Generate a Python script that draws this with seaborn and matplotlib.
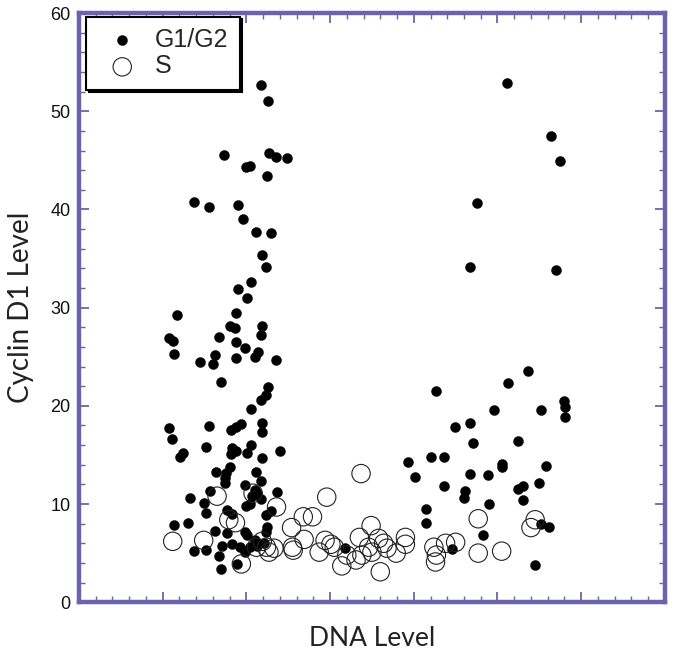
import matplotlib
matplotlib.use("Agg")
import matplotlib.pyplot as plt
import seaborn as sns
import pandas as pd
from matplotlib.ticker import MultipleLocator, AutoMinorLocator

# G1/G2 cells (filled)
g_x = [1.65, 2.18, 2.26, 1.73, 2.00, 2.04, 2.27, 2.35, 2.49, 2.25, 1.37, 1.55, 1.90, 1.96,
       2.12, 2.29, 2.19, 2.23, 2.06, 1.90, 2.01, 1.88, 1.17, 1.80, 1.87, 2.19, 2.18, 1.08,
       1.12, 1.67, 1.88, 1.98, 2.14, 2.10, 1.14, 1.44, 1.63, 1.60, 1.88, 2.35, 1.70, 2.26,
       2.24, 2.18, 2.06, 1.07, 1.11, 1.55, 1.94, 1.88, 1.82, 2.19, 2.19, 1.24, 1.21, 1.52,
       1.83, 1.88, 1.82, 2.06, 2.01, 2.40, 2.19, 1.64, 1.80, 1.76, 1.74, 1.74, 2.11, 2.18,
       1.98, 1.56, 1.33, 1.49, 2.36, 2.10, 2.13, 2.07, 2.18, 2.04, 2.00, 1.52, 1.77, 1.83,
       2.30, 2.24, 1.13, 1.30, 1.62, 2.25, 2.24, 1.77, 1.98, 2.01, 1.83, 1.92, 1.98, 2.04,
       2.10, 2.13, 2.21, 1.71, 1.37, 1.52, 1.67, 1.89, 1.70, 3.18, 4.46, 5.36, 5.13, 4.26,
       5.79, 5.81, 5.81, 4.96, 5.52, 4.49, 4.67, 4.71, 5.24, 3.93, 4.20, 4.36, 4.02, 4.67,
       4.89, 5.05, 5.05, 5.58, 4.36, 4.61, 4.60, 5.50, 5.31, 5.25, 5.31, 4.90, 4.15, 4.15,
       4.83, 5.52, 5.61, 5.45, 5.11, 5.64, 5.75, 4.76, 4.67, 5.70]
g_y = [52.5, 52.7, 51.0, 45.6, 44.3, 44.4, 45.8, 45.3, 45.2, 43.4, 40.8, 40.3, 40.5, 39.0,
       37.7, 37.6, 35.4, 34.1, 32.6, 31.9, 31.0, 29.5, 29.3, 28.1, 27.9, 28.1, 27.2, 26.9,
       26.6, 27.0, 26.5, 25.9, 25.5, 25.0, 25.3, 24.5, 25.2, 24.3, 24.9, 24.7, 22.4, 21.9,
       21.1, 20.6, 19.7, 17.7, 16.6, 17.9, 18.1, 17.8, 17.5, 18.3, 17.3, 15.2, 14.8, 15.8,
       15.7, 15.4, 15.1, 16.0, 15.2, 15.4, 14.7, 13.3, 13.8, 13.2, 12.7, 12.1, 13.3, 12.3,
       11.9, 11.3, 10.6, 10.1, 11.2, 11.4, 11.1, 10.8, 10.5, 10.0, 9.8, 9.1, 9.4, 9.0,
       9.3, 8.9, 7.9, 8.1, 7.3, 7.7, 7.2, 7.0, 7.1, 6.8, 5.9, 5.6, 5.1, 5.6,
       6.3, 5.7, 6.0, 5.7, 5.2, 5.3, 4.7, 3.9, 3.4, 5.5, 5.4, 23.6, 22.3, 21.5,
       20.5, 19.9, 18.9, 19.6, 19.6, 17.8, 18.3, 16.2, 16.4, 14.3, 14.8, 14.8, 12.8, 13.1,
       13.0, 14.1, 13.8, 13.9, 11.8, 11.3, 10.6, 12.1, 11.8, 11.5, 10.4, 10.0, 9.5, 8.1,
       6.8, 8.0, 7.7, 3.8, 52.9, 47.5, 44.9, 40.7, 34.1, 33.8]

# S-phase cells (open)
s_x = [1.12, 1.49, 1.65, 1.79, 1.87, 1.94, 2.08, 2.36, 2.19, 2.24, 2.27, 2.33, 2.12, 2.54,
       2.55, 2.56, 2.68, 2.79, 2.69, 2.96, 2.87, 2.94, 3.01, 3.05, 3.14, 3.37, 3.49, 3.90,
       3.90, 3.35, 3.58, 3.64, 3.68, 3.79, 3.46, 3.50, 3.38, 3.20, 3.31, 3.60, 4.24, 4.27,
       4.26, 4.38, 4.50, 4.77, 4.77, 5.05, 5.45, 5.40]
s_y = [6.2, 6.3, 10.8, 8.4, 8.1, 3.9, 11.1, 9.7, 6.2, 5.6, 5.1, 5.5, 5.6, 7.6,
       5.6, 5.3, 8.7, 8.7, 6.4, 10.7, 5.1, 6.3, 5.9, 5.6, 3.7, 13.1, 7.8, 6.6,
       5.9, 6.6, 6.5, 6.0, 5.5, 5.0, 5.6, 5.1, 4.8, 4.8, 4.3, 3.1, 5.6, 4.8,
       4.1, 6.0, 6.1, 8.5, 5.0, 5.2, 8.4, 7.6]

labels = ["G1/G2", "S"]
y_ticks = [0, 10, 20, 30, 40, 50, 60]

purple = "#6C64AA"

sns.set_theme(style="white")
plt.rcParams["font.family"] = ["Liberation Sans", "DejaVu Sans"]

g_df = pd.DataFrame({"dna": g_x, "cyc": g_y})
s_df = pd.DataFrame({"dna": s_x, "cyc": s_y})

fig = plt.figure(figsize=(6.75, 6.56), dpi=100)
ax = fig.add_axes([0.117, 0.082, 0.868, 0.898])

sns.scatterplot(data=g_df, x="dna", y="cyc", ax=ax, s=52, color="black",
                edgecolor="black", linewidth=0.3, label=labels[0], zorder=3)
sns.scatterplot(data=s_df, x="dna", y="cyc", ax=ax, s=175, facecolor="none",
                edgecolor="#222222", linewidth=0.8, label=labels[1], zorder=4)

ax.set_xlim(0, 7)
ax.set_ylim(0, 60)
ax.set_yticks(y_ticks)
ax.xaxis.set_major_locator(MultipleLocator(1))
ax.xaxis.set_minor_locator(AutoMinorLocator(5))
ax.yaxis.set_minor_locator(AutoMinorLocator(5))
ax.tick_params(axis="both", which="both", direction="in", colors=purple,
               top=True, right=True, bottom=True, left=True)
ax.tick_params(which="major", length=7, width=1.3)
ax.tick_params(which="minor", length=4, width=1.0)
ax.tick_params(axis="y", labelcolor="#111111", labelsize=13, pad=6)
ax.tick_params(axis="x", labelbottom=False)
for sp in ax.spines.values():
    sp.set_color(purple)
    sp.set_linewidth(3.2)

ax.set_xlabel("DNA Level", family=["Lato", "DejaVu Sans"], fontsize=19,
              color="#222222", labelpad=14)
ax.set_ylabel("Cyclin D1 Level", family=["Lato", "DejaVu Sans"], fontsize=20,
              color="#222222", labelpad=12)

leg = ax.legend(loc="upper left", bbox_to_anchor=(0.012, 0.994), borderaxespad=0,
                frameon=True, fancybox=False, fontsize=18,
                shadow={"color": "black", "alpha": 1},
                handletextpad=0.3, labelspacing=0.1, borderpad=0.45,
                handlelength=2.0)
leg.get_frame().set_edgecolor("black")
leg.get_frame().set_linewidth(1.5)
leg.get_frame().set_facecolor("white")
leg.set_zorder(10)

fig.savefig("out.png", dpi=100)
